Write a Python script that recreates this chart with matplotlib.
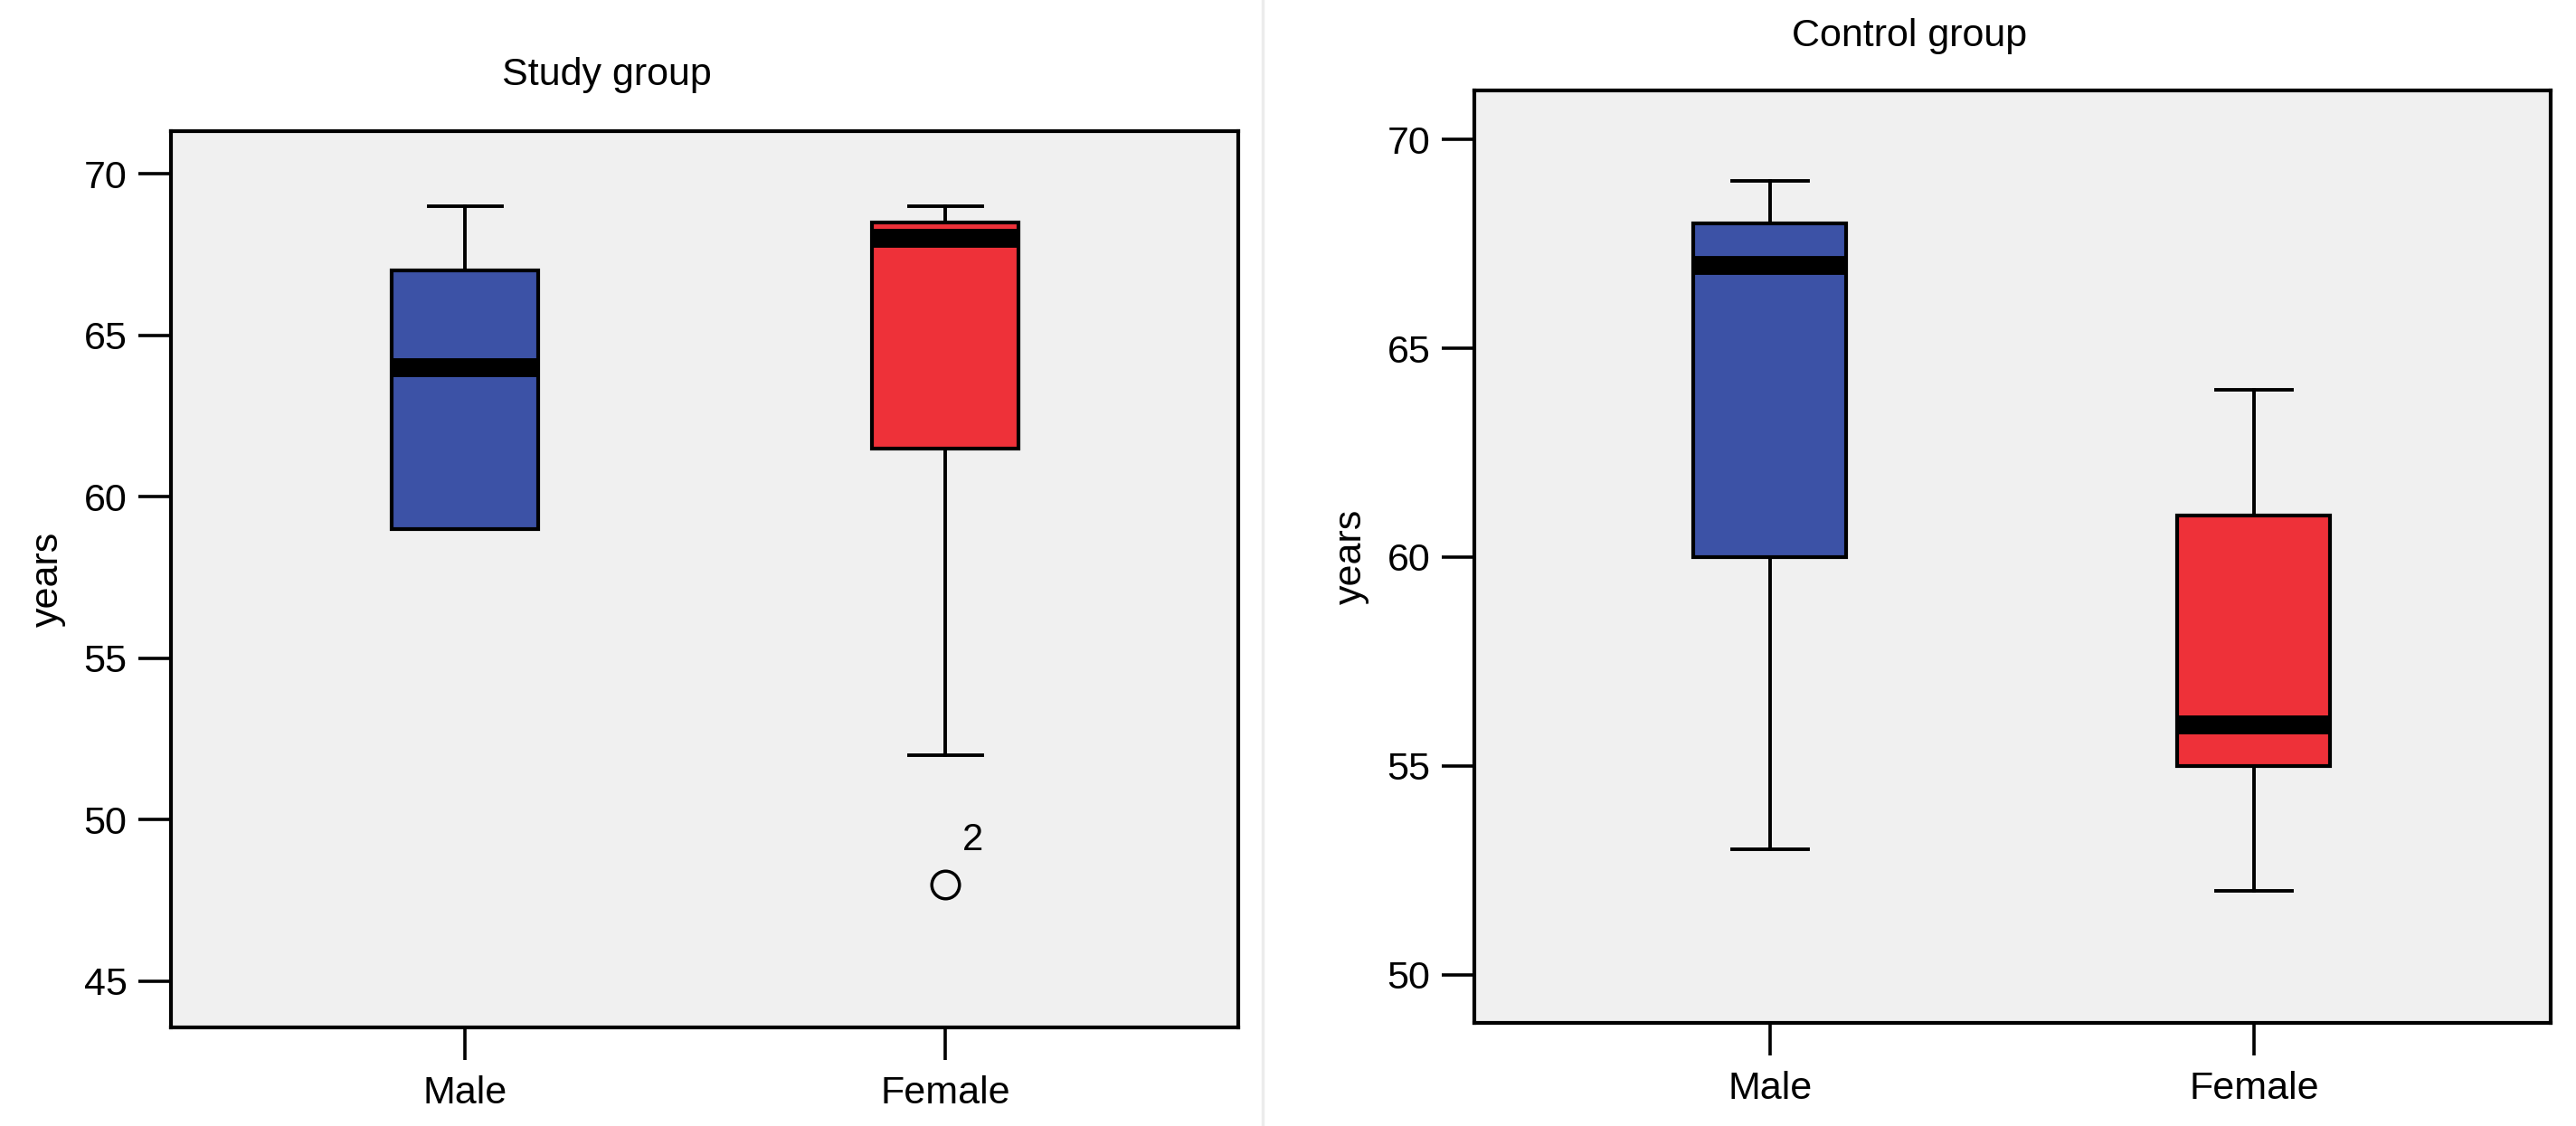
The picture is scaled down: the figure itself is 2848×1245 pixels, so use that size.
import matplotlib.pyplot as plt
from matplotlib.lines import Line2D

# box statistics (years)
groups = ["Male", "Female"]
colors = ["#3c52a6", "#ee3139"]

study_q1 = [59, 61.5]
study_med = [64, 68]
study_q3 = [67, 68.5]
study_lo = [59, 52]
study_hi = [69, 69]
study_fliers = [[], [48]]
study_flier_ids = [None, "2"]

control_q1 = [60, 55]
control_med = [67, 56]
control_q3 = [68, 61]
control_lo = [53, 52]
control_hi = [69, 64]
control_fliers = [[], []]

plt.rcParams['font.family'] = ['Liberation Sans', 'DejaVu Sans']

fig = plt.figure(figsize=(28.48, 12.45), dpi=100)
fig.patch.set_facecolor('white')

# faint divider between the two panels
fig.add_artist(Line2D([0.4902, 0.4902], [0, 1], color='#ececec', linewidth=2.5))


def make_stats(q1, med, q3, lo, hi, fliers):
    stats = []
    for i in range(len(q1)):
        stats.append({'med': med[i], 'q1': q1[i], 'q3': q3[i],
                      'whislo': lo[i], 'whishi': hi[i], 'fliers': fliers[i]})
    return stats


def draw_panel(ax, stats, width, ylim, xlim, yticks):
    ax.set_facecolor('#f0f0f0')
    bp = ax.bxp(stats, positions=[1, 2], widths=width, patch_artist=True,
                showfliers=True,
                boxprops=dict(linewidth=3, edgecolor='black'),
                medianprops=dict(color='black', linewidth=15, solid_capstyle='butt'),
                whiskerprops=dict(linewidth=2.8, color='black'),
                capprops=dict(linewidth=2.8, color='black'),
                flierprops=dict(marker='o', markerfacecolor='none',
                                markeredgecolor='black', markersize=22,
                                markeredgewidth=2.5))
    for patch, c in zip(bp['boxes'], colors):
        patch.set_facecolor(c)
    for cap in bp['caps']:
        xd = cap.get_xdata()
        mid = (xd[0] + xd[1]) / 2
        cap.set_xdata([mid - width * 0.25, mid + width * 0.25])
    ax.set_ylim(*ylim)
    ax.set_xlim(*xlim)
    ax.set_yticks(yticks)
    ax.set_xticks([1, 2])
    ax.set_xticklabels(groups)
    ax.tick_params(axis='both', length=26, width=2.6, labelsize=31, pad=9)
    ax.tick_params(axis='x', pad=12)
    for s in ax.spines.values():
        s.set_linewidth(3)
    ax.set_ylabel("years", fontsize=31, labelpad=14)
    return bp


ax1 = fig.add_axes([0.0664, 0.0876, 0.4143, 0.796])
draw_panel(ax1, make_stats(study_q1, study_med, study_q3, study_lo, study_hi, study_fliers),
           0.305, (43.57, 71.32), (0.388, 2.61), [45, 50, 55, 60, 65, 70])
for i, ids in enumerate(study_flier_ids):
    if ids is not None:
        for v in study_fliers[i]:
            ax1.annotate(ids, (i + 1, v), xytext=(22, 35), textcoords='offset points',
                         fontsize=30, ha='center', va='center')
ax1.set_title("Study group", fontsize=31, pad=37, x=0.408)

ax2 = fig.add_axes([0.5723, 0.0916, 0.4178, 0.828])
draw_panel(ax2, make_stats(control_q1, control_med, control_q3, control_lo, control_hi, control_fliers),
           0.316, (48.85, 71.17), (0.389, 2.613), [50, 55, 60, 65, 70])
ax2.set_title("Control group", fontsize=31, pad=35, x=0.404)

fig.savefig("out.png", dpi=100)
